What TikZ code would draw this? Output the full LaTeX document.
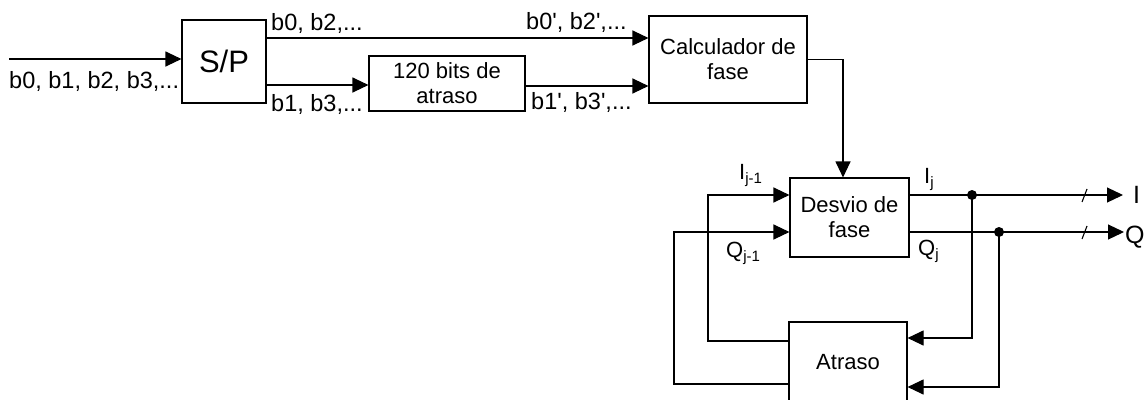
\documentclass[tikz,border=0pt]{standalone}
\usepackage{fontspec}
\setmainfont{Liberation Sans}
\usetikzlibrary{arrows.meta}
\newcommand{\lbl}{\fontsize{22}{25}\selectfont}
\newcommand{\blbl}{\fontsize{23.5}{26}\selectfont}
\newcommand{\sbs}[1]{\raisebox{-0.35ex}{\fontsize{15}{15}\selectfont #1}}
\newcommand{\pr}{\textquotesingle}
\tikzset{
  blk/.style={draw, line width=1.1pt, inner sep=0pt, align=center, font=\lbl},
  arr/.style={line width=1.1pt, -{Triangle[length=16pt,width=15pt]}},
  ln/.style={line width=1.1pt},
  txt/.style={inner sep=0pt, font=\blbl},
  dot/.style={circle, fill=black, inner sep=0pt, minimum size=10pt}
}
\begin{document}
\begin{tikzpicture}[x=1pt,y=-1pt]
\useasboundingbox (0,0) rectangle (1147,399);
% blocks
\node[blk, minimum width=84pt, minimum height=83pt, font=\fontsize{31}{34}\selectfont] (sp) at (224,61.5) {S/P};
\node[blk, minimum width=156pt, minimum height=55pt] (bits) at (447,83.5) {120 bits de\\atraso};
\node[blk, minimum width=158pt, minimum height=87pt] (calc) at (728,59.5) {Calculador de\\fase};
\node[blk, minimum width=119pt, minimum height=79pt] (desv) at (849.5,217.5) {Desvio de\\fase};
\node[blk, minimum width=118pt, minimum height=80pt] (atr) at (848,362) {Atraso};
% coordinates
\coordinate (in) at (9,59);
\coordinate (dI) at (972,195);
\coordinate (dQ) at (999,232);
\coordinate (outI) at (1123,195);
\coordinate (outQ) at (1124,232);
% labels
\node[txt, anchor=base west] (l0) at (9,88) {b0, b1, b2, b3,...};
\node[txt, anchor=base west] (l1) at (271,30) {b0, b2,...};
\node[txt, anchor=base west] (l2) at (271,111) {b1, b3,...};
\node[txt, anchor=base west] (l3) at (526,29) {b0\pr, b2\pr,...};
\node[txt, anchor=base west] (l4) at (531,109) {b1\pr, b3\pr,...};
\node[txt, font=\lbl, anchor=base west] (l5) at (739,179) {I\sbs{j-1}};
\node[txt, font=\lbl, anchor=base west] (l6) at (726,257) {Q\sbs{j-1}};
\node[txt, font=\lbl, anchor=base west] (l7) at (924,183) {I\sbs{j}};
\node[txt, font=\lbl, anchor=base west] (l8) at (918,255) {Q\sbs{j}};
\node[txt, font=\fontsize{25}{28}\selectfont, anchor=base west] (lI) at (1133,203) {I};
\node[txt, font=\fontsize{25}{28}\selectfont, anchor=base west] (lQ) at (1125,243) {Q};
% connectors
\draw[arr] (in) -- (in -| sp.west);
\draw[arr] (sp.east |- 0,38) -- (calc.west |- 0,38);
\draw[arr] (sp.east |- 0,85) -- (bits.west |- 0,85);
\draw[arr] (bits.east |- 0,86) -- (calc.west |- 0,86);
\draw[arr] (calc.east) -| (843,0 |- desv.north);
\draw[arr] (desv.east |- dI) -- (outI);
\draw[arr] (desv.east |- dQ) -- (outQ);
\node[dot] at (dI) {};
\node[dot] at (dQ) {};
\draw[ln] (1082,202) -- (1087,189);
\draw[ln] (1082,239) -- (1087,226);
\draw[arr] (dI) |- (atr.east |- 0,338);
\draw[arr] (dQ) |- (atr.east |- 0,387);
\draw[arr] (atr.west |- 0,341) -| (708,195) -- (desv.west |- 0,195);
\draw[arr] (atr.west |- 0,384) -| (674,232) -- (desv.west |- 0,232);
\end{tikzpicture}
\end{document}
